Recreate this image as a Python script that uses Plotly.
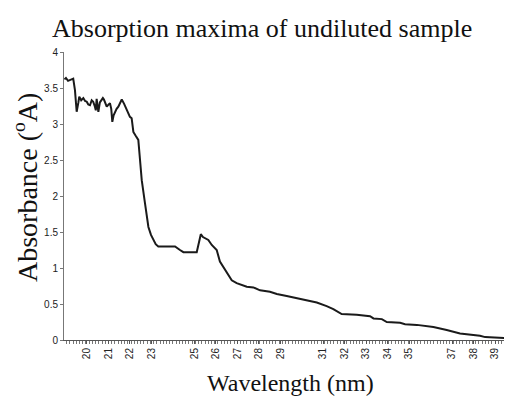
import plotly.graph_objects as go

wavelength = [189.5, 190.2, 191.2, 192.1, 193.0, 193.6, 194.4, 195.2, 196.0, 196.4,
              197.3, 198.3, 199.1, 199.9, 200.6, 201.4, 202.2, 202.9, 203.7, 204.1,
              204.5, 205.3, 206.0, 206.8, 207.4, 207.9, 208.6, 209.2, 210.0, 210.7,
              211.3, 211.8, 212.4, 213.0, 213.8, 214.6, 215.4, 216.2, 217.3, 218.5,
              219.3, 220.0, 220.8, 221.6, 222.6, 223.9, 224.7, 225.5, 227.0, 228.6,
              229.8, 230.9, 232.0, 233.2, 241.0, 243.3, 244.9, 251.1, 253.0, 254.0,
              255.0, 256.5, 258.1, 260.4, 261.9, 264.3, 267.4, 269.7, 274.4, 277.5,
              280.6, 285.2, 288.4, 293.0, 297.7, 302.3, 307.0, 311.6, 314.7, 318.6,
              325.6, 331.8, 333.4, 337.3, 339.6, 345.8, 348.1, 353.6, 361.3, 367.5,
              373.7, 383.0, 385.4, 392.0, 398.0]
absorbance = [3.62, 3.64, 3.60, 3.61, 3.63, 3.63, 3.47, 3.17, 3.30, 3.38,
              3.33, 3.36, 3.32, 3.31, 3.27, 3.26, 3.33, 3.31, 3.24, 3.19,
              3.35, 3.17, 3.30, 3.33, 3.36, 3.34, 3.28, 3.24, 3.27, 3.29,
              3.21, 3.03, 3.12, 3.17, 3.21, 3.24, 3.30, 3.34, 3.28, 3.19,
              3.14, 3.10, 3.08, 2.89, 2.84, 2.78, 2.50, 2.22, 1.90, 1.57,
              1.46, 1.39, 1.33, 1.30, 1.30, 1.25, 1.22, 1.22, 1.47, 1.43,
              1.41, 1.39, 1.32, 1.25, 1.09, 0.97, 0.83, 0.79, 0.74, 0.73,
              0.69, 0.67, 0.64, 0.61, 0.58, 0.56, 0.52, 0.47, 0.43, 0.36,
              0.35, 0.33, 0.30, 0.29, 0.25, 0.24, 0.22, 0.21, 0.18, 0.14,
              0.09, 0.06, 0.04, 0.03, 0.02]

x_tick_vals = [200, 210, 220, 230, 250, 260, 270, 280, 290, 310, 320, 330, 340, 350, 370, 380, 390]
x_tick_text = ["20", "21", "22", "23", "25", "26", "27", "28", "29", "31", "32", "33", "34", "35", "37", "38", "39"]
y_tick_vals = [0, 0.5, 1, 1.5, 2, 2.5, 3, 3.5, 4]
y_tick_text = ["0", "0.5", "1", "1.5", "2", "2.5", "3", "3.5", "4"]

fig = go.Figure()
fig.add_trace(go.Scatter(x=wavelength, y=absorbance, mode="lines",
                         line=dict(color="#1a1a1a", width=2), hoverinfo="skip"))

serif = "Liberation Serif, Times New Roman, serif"
sans = "Liberation Sans, Arial, sans-serif"

# page body has an 8px margin; positions below are in page pixels
OFF = 8
L, T, W, H = 64 - OFF, 52 - OFF, 448, 288

fig.update_layout(
    width=512, height=401,
    margin=dict(l=L, r=512 - L - W, t=T, b=401 - T - H, autoexpand=False),
    paper_bgcolor="white", plot_bgcolor="white",
    showlegend=False,
    xaxis=dict(range=[189.3, 397.9], tickvals=x_tick_vals, ticktext=x_tick_text,
               tickangle=-90, tickfont=dict(family=sans, size=10, color="#222"),
               showgrid=False, zeroline=False, showline=True, linecolor="#555", linewidth=1,
               ticks="outside", ticklen=3, tickcolor="#555", automargin=False,
               minor=dict(ticks="outside", ticklen=3, dtick=1.5, tickcolor="#777", showgrid=False)),
    yaxis=dict(range=[0, 4], tickvals=y_tick_vals, ticktext=y_tick_text,
               tickfont=dict(family=sans, size=10, color="#222"), automargin=False,
               showgrid=False, zeroline=False, showline=True, linecolor="#777", linewidth=1,
               ticks="outside", ticklen=3, tickcolor="#777"),
)

def px_x(p):
    return (p - OFF - L) / W

def px_y(p):
    return (T + H - (p - OFF)) / H

fig.add_annotation(text="Absorption maxima of undiluted sample", xref="paper", yref="paper",
                   x=px_x(262), y=px_y(28), xanchor="center", yanchor="middle", showarrow=False,
                   font=dict(family=serif, size=26, color="#111"))
fig.add_annotation(text="Wavelength (nm)", xref="paper", yref="paper",
                   x=px_x(290), y=px_y(383), xanchor="center", yanchor="middle", showarrow=False,
                   font=dict(family=serif, size=24, color="#111"))
fig.add_annotation(text="Absorbance (<sup>o</sup>A)", xref="paper", yref="paper",
                   x=px_x(25), y=px_y(188), xanchor="center", yanchor="middle", showarrow=False,
                   textangle=-90, font=dict(family=serif, size=28, color="#111"))

fig.write_html("out.html")
